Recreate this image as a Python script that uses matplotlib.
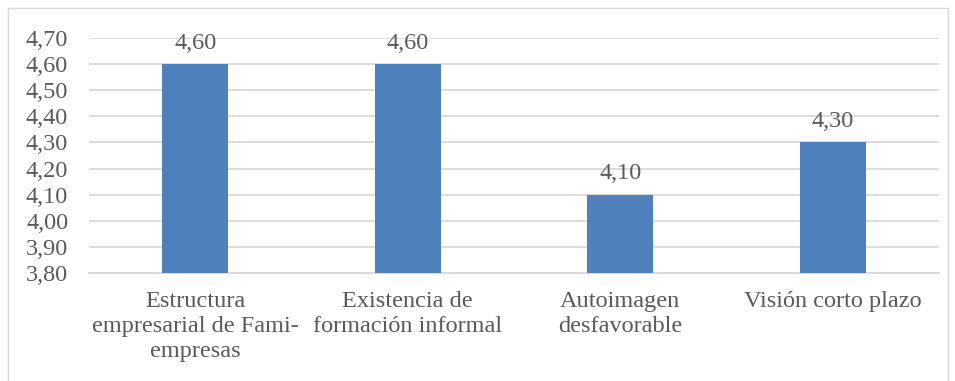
import matplotlib.pyplot as plt
from matplotlib.patches import Rectangle

categories = ['Estructura\nempresarial de Fami-\nempresas', 'Existencia de\nformación informal',
              'Autoimagen\ndesfavorable', 'Visión corto plazo']
values = [4.60, 4.60, 4.10, 4.30]
yticks = [3.80, 3.90, 4.00, 4.10, 4.20, 4.30, 4.40, 4.50, 4.60, 4.70]

plt.rcParams['font.family'] = ['Liberation Serif', 'DejaVu Serif']
txt = '#595959'
fs = 17.5

fig = plt.figure(figsize=(9.55, 3.81), dpi=100)
ax = fig.add_axes([89/955, 1 - 273/381, 850/955, 235/381])

x = range(len(categories))
ax.bar(x, values, width=0.31, color='#4F81BD', zorder=3)
for i, v in zip(x, values):
    ax.text(i, v + 0.04, f'{v:.2f}'.replace('.', ','), ha='center', va='bottom',
            fontsize=fs, color=txt)

ax.set_ylim(3.80, 4.70)
ax.set_xlim(-0.5, len(categories) - 0.5)
ax.set_yticks(yticks)
ax.set_yticklabels([f'{t:.2f}'.replace('.', ',') for t in yticks], fontsize=fs, color=txt)
ax.set_xticks(list(x))
ax.set_xticklabels(categories, fontsize=fs, color=txt, linespacing=1.25)
ax.tick_params(length=0)
ax.tick_params(axis='y', pad=15)
ax.tick_params(axis='x', pad=13)
ax.grid(axis='y', color='#D9D9D9', linewidth=1.3, zorder=0)
for s in ['top', 'right', 'left']:
    ax.spines[s].set_visible(False)
ax.spines['bottom'].set_color('#D9D9D9')
ax.spines['bottom'].set_linewidth(1.3)

fig.patches.append(Rectangle((8/955, -0.05), 940/955, 1.05 - 8/381, transform=fig.transFigure,
                             fill=False, edgecolor='#D9D9D9', linewidth=1))

fig.savefig('out.png', dpi=100)
